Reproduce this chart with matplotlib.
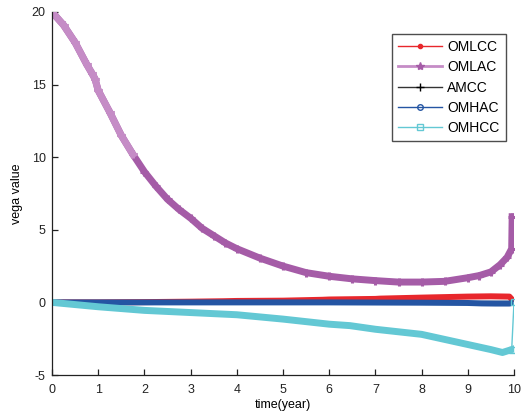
import matplotlib
matplotlib.use("Agg")
import matplotlib.pyplot as plt
from matplotlib.lines import Line2D

plt.rcParams['font.family'] = ['Liberation Sans', 'DejaVu Sans']

# ---------------- data ----------------
t_omlac = [0.0, 0.25, 0.5, 0.75, 0.86, 0.93, 1.0, 1.25, 1.5, 1.75, 2.0, 2.25, 2.5,
           2.75, 3.0, 3.25, 3.5, 3.75, 4.0, 4.5, 5.0, 5.5, 6.0, 6.5, 7.0, 7.5,
           8.0, 8.5, 9.0, 9.25, 9.5, 9.7, 9.85, 9.95, 9.96]
v_omlac = [20.0, 19.1, 17.9, 16.4, 15.8, 15.4, 14.6, 13.1, 11.5, 10.2, 9.0, 8.0, 7.1,
           6.4, 5.8, 5.1, 4.6, 4.1, 3.7, 3.05, 2.5, 2.05, 1.8, 1.62, 1.5, 1.4,
           1.4, 1.45, 1.7, 1.85, 2.1, 2.6, 3.1, 3.7, 5.9]

t_omlcc = [0, 1, 2, 3, 3.7, 4, 5, 5.85, 6, 7, 7.1, 8, 9, 9.5, 9.9, 10]
v_omlcc = [0.0, 0.0, 0.02, 0.05, 0.08, 0.1, 0.12, 0.18, 0.2, 0.24, 0.26, 0.33, 0.4, 0.42, 0.4, 0.05]

t_amcc = [0, 2, 4, 6, 8, 9, 9.5, 9.9, 10]
v_amcc = [0.0, 0.0, 0.01, 0.02, 0.03, 0.05, 0.06, 0.06, 0.0]

t_omhac = [0, 2, 4, 6, 8, 9, 9.3, 9.6, 9.9, 10]
v_omhac = [0.0, 0.0, 0.0, 0.0, -0.02, -0.04, -0.07, -0.08, -0.08, 0.0]

t_omhcc = [0, 1, 2, 3, 4, 5, 6, 6.45, 7, 8, 9, 9.5, 9.75, 9.95, 10]
v_omhcc = [0.0, -0.3, -0.55, -0.7, -0.85, -1.15, -1.5, -1.6, -1.85, -2.2, -2.9, -3.25, -3.45, -3.25, 0.0]

labels = ['OMLCC', 'OMLAC', 'AMCC', 'OMHAC', 'OMHCC']
xticks = [0, 1, 2, 3, 4, 5, 6, 7, 8, 9, 10]
yticks = [-5, 0, 5, 10, 15, 20]

c_red = '#e8272c'
c_purple = '#a55ca7'
c_purple_light = '#c58cc6'
c_black = '#111111'
c_blue = '#2455a3'
c_cyan = '#63c8d4'

# ---------------- figure ----------------
fig = plt.figure(figsize=(5.22, 4.2), dpi=100)
ax = fig.add_axes([52 / 522, 45 / 420, (514 - 52) / 522, (375 - 12) / 420])

ax.plot(t_omlcc, v_omlcc, color=c_red, lw=4.3, solid_capstyle='butt')
ax.plot(t_omlac, v_omlac, color=c_purple, lw=5.0, marker='+', ms=6, mew=2.2)
n_light = 10
ax.plot(t_omlac[:n_light], v_omlac[:n_light], color=c_purple_light, lw=5.0,
        marker='+', ms=6, mew=2.2)
ax.plot(t_amcc, v_amcc, color=c_black, lw=1.0)
ax.plot(t_omhac, v_omhac, color=c_blue, lw=4.3, solid_capstyle='butt')
ax.plot(t_omhcc[:-1], v_omhcc[:-1], color=c_cyan, lw=5.0)
ax.plot(t_omhcc[-2:], v_omhcc[-2:], color=c_cyan, lw=1.0, marker='s', ms=4,
        mfc='none', mew=1.0)

ax.set_xlim(0, 10)
ax.set_ylim(-5, 20)
ax.set_xticks(xticks)
ax.set_yticks(yticks)
ax.set_xticklabels([str(v) for v in xticks])
ax.set_yticklabels([str(v) for v in yticks])
ax.spines['top'].set_visible(False)
ax.spines['right'].set_visible(False)
for s in ('left', 'bottom'):
    ax.spines[s].set_color('#222222')
    ax.spines[s].set_linewidth(0.9)
ax.tick_params(axis='both', direction='in', length=4, width=0.9, labelsize=9,
               colors='#222222')
ax.tick_params(axis='x', pad=6.5)
ax.tick_params(axis='y', pad=4.5)
ax.set_xlabel('time(year)', fontsize=9, labelpad=2)
ax.set_ylabel('vega value', fontsize=9, labelpad=6)

handles = [
    Line2D([], [], color=c_red, lw=1.0, marker='.', ms=6),
    Line2D([], [], color=c_purple_light, lw=2.0, marker='*', ms=6, mec=c_purple, mfc=c_purple),
    Line2D([], [], color='#333333', lw=1.0, marker='+', ms=6, mec='black'),
    Line2D([], [], color=c_blue, lw=1.0, marker='o', ms=4, mfc='none'),
    Line2D([], [], color=c_cyan, lw=1.0, marker='s', ms=4, mfc='none'),
]
leg = ax.legend(handles, labels, loc='upper right', bbox_to_anchor=(0.982, 0.94),
                fontsize=10, frameon=True, fancybox=False, edgecolor='#222222',
                handlelength=3.2, handletextpad=0.35, labelspacing=0.45,
                borderpad=0.45, borderaxespad=0.0)
leg.get_frame().set_linewidth(1.0)

fig.savefig('out.png', dpi=100)
